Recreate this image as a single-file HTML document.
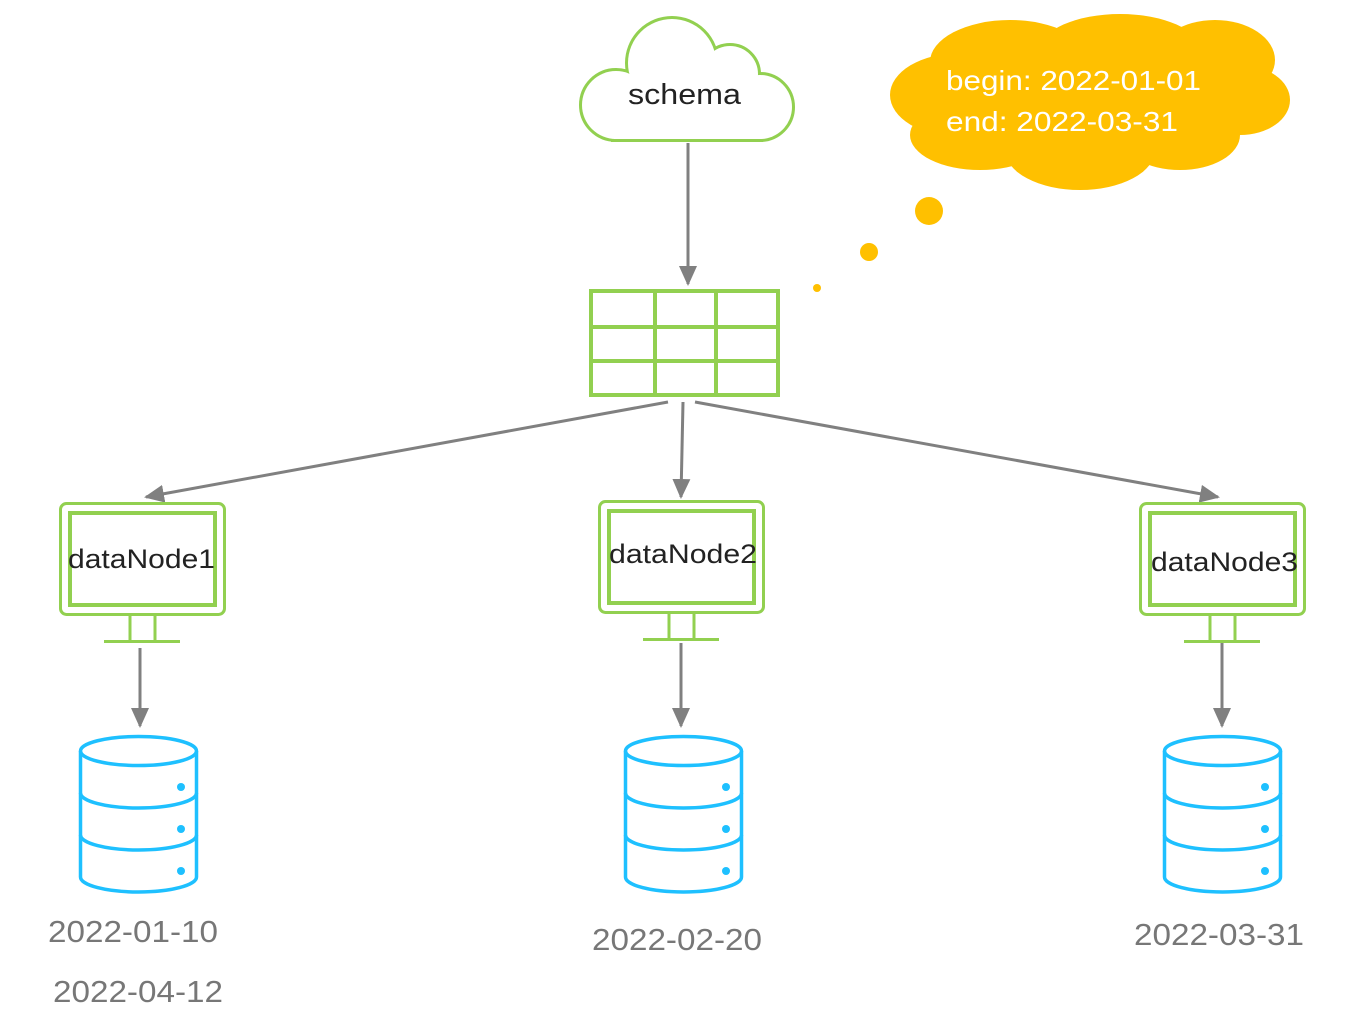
<!DOCTYPE html>
<html><head><meta charset="utf-8"><style>
html,body{margin:0;padding:0;background:#fff;}
svg{display:block;}
text{font-family:"Liberation Sans","DejaVu Sans",sans-serif;}
</style></head><body>
<svg width="1347" height="1029" viewBox="0 0 1347 1029" xmlns="http://www.w3.org/2000/svg">
<defs>
<marker id="ah2" markerWidth="20" markerHeight="18" refX="18" refY="9" orient="auto" markerUnits="userSpaceOnUse" viewBox="0 0 20 18">
<path d="M0,0 L20,9 L0,18 z" fill="#808080"/>
</marker>
<g id="mon">
<rect x="1.5" y="1.5" width="164" height="111" rx="6" fill="#fff" stroke="#92d050" stroke-width="3"/>
<rect x="11" y="11" width="145" height="92" fill="none" stroke="#92d050" stroke-width="4"/>
<line x1="71" y1="114" x2="71" y2="139" stroke="#92d050" stroke-width="3"/>
<line x1="96" y1="114" x2="96" y2="139" stroke="#92d050" stroke-width="3"/>
<line x1="45" y1="139.5" x2="121" y2="139.5" stroke="#92d050" stroke-width="3"/>
</g>
<g id="db" fill="none" stroke="#1ec0ff" stroke-width="3.5">
<ellipse cx="59.5" cy="16" rx="58" ry="14.5" fill="#fff"/>
<path d="M1.5,16 V142 A58,15 0 0 0 117.5,142 V16"/>
<path d="M1.5,58 A58,15 0 0 0 117.5,58"/>
<path d="M1.5,100 A58,15 0 0 0 117.5,100"/>
<circle cx="102" cy="52" r="4" fill="#1ec0ff" stroke="none"/>
<circle cx="102" cy="94" r="4" fill="#1ec0ff" stroke="none"/>
<circle cx="102" cy="136" r="4" fill="#1ec0ff" stroke="none"/>
</g>
</defs>

<!-- schema cloud -->
<g stroke="#92d050" stroke-width="6" fill="#fff">
<circle cx="616" cy="105" r="34"/>
<circle cx="672" cy="63" r="44"/>
<circle cx="730" cy="74" r="28"/>
<circle cx="760" cy="107" r="32"/>
<rect x="614" y="95" width="146" height="44"/>
</g>
<g fill="#fff">
<circle cx="616" cy="105" r="34"/>
<circle cx="672" cy="63" r="44"/>
<circle cx="730" cy="74" r="28"/>
<circle cx="760" cy="107" r="32"/>
<rect x="614" y="95" width="146" height="44"/>
<ellipse cx="690" cy="95" rx="60" ry="30"/>
</g>
<text x="628" y="104" font-size="29" textLength="113" lengthAdjust="spacingAndGlyphs" fill="#222">schema</text>

<!-- yellow cloud -->
<g fill="#ffc000">
<ellipse cx="960" cy="95" rx="70" ry="42"/>
<ellipse cx="1010" cy="62" rx="80" ry="42"/>
<ellipse cx="1120" cy="50" rx="80" ry="36"/>
<ellipse cx="1215" cy="60" rx="60" ry="40"/>
<ellipse cx="1240" cy="100" rx="50" ry="35"/>
<ellipse cx="1180" cy="135" rx="60" ry="35"/>
<ellipse cx="1080" cy="150" rx="75" ry="40"/>
<ellipse cx="980" cy="135" rx="70" ry="35"/>
<ellipse cx="1090" cy="100" rx="170" ry="60"/>
</g>
<text x="946" y="90" font-size="28" textLength="255" lengthAdjust="spacingAndGlyphs" fill="#fff">begin: 2022-01-01</text>
<text x="946" y="131" font-size="28" textLength="232" lengthAdjust="spacingAndGlyphs" fill="#fff">end: 2022-03-31</text>
<circle cx="929" cy="211" r="14" fill="#ffc000"/>
<circle cx="869" cy="252" r="9" fill="#ffc000"/>
<circle cx="817" cy="288" r="4" fill="#ffc000"/>

<!-- arrows -->
<g stroke="#808080" stroke-width="3" fill="none">
<line x1="688" y1="143" x2="688" y2="284" marker-end="url(#ah2)"/>
<line x1="668" y1="402" x2="146" y2="497" marker-end="url(#ah2)"/>
<line x1="683" y1="402" x2="681" y2="497" marker-end="url(#ah2)"/>
<line x1="695" y1="402" x2="1218" y2="497" marker-end="url(#ah2)"/>
<line x1="140" y1="648" x2="140" y2="726" marker-end="url(#ah2)"/>
<line x1="681" y1="643" x2="681" y2="726" marker-end="url(#ah2)"/>
<line x1="1222" y1="643" x2="1222" y2="726" marker-end="url(#ah2)"/>
</g>

<!-- table -->
<g stroke="#92d050" stroke-width="4" fill="#fff">
<rect x="591" y="291" width="187" height="104"/>
<line x1="655" y1="291" x2="655" y2="395"/>
<line x1="716" y1="291" x2="716" y2="395"/>
<line x1="591" y1="327" x2="778" y2="327"/>
<line x1="591" y1="361" x2="778" y2="361"/>
</g>

<!-- monitors -->
<use href="#mon" x="59" y="502"/>
<use href="#mon" x="598" y="500"/>
<use href="#mon" x="1139" y="502"/>
<text x="68" y="568" font-size="27" textLength="147" lengthAdjust="spacingAndGlyphs" fill="#222">dataNode1</text>
<text x="609" y="563" font-size="27" textLength="148" lengthAdjust="spacingAndGlyphs" fill="#222">dataNode2</text>
<text x="1151" y="571" font-size="27" textLength="147" lengthAdjust="spacingAndGlyphs" fill="#222">dataNode3</text>

<!-- dbs -->
<use href="#db" x="79" y="735"/>
<use href="#db" x="624" y="735"/>
<use href="#db" x="1163" y="735"/>

<g font-size="31" fill="#777">
<text x="48" y="942" textLength="170" lengthAdjust="spacingAndGlyphs">2022-01-10</text>
<text x="53" y="1002" textLength="170" lengthAdjust="spacingAndGlyphs">2022-04-12</text>
<text x="592" y="950" textLength="170" lengthAdjust="spacingAndGlyphs">2022-02-20</text>
<text x="1134" y="945" textLength="170" lengthAdjust="spacingAndGlyphs">2022-03-31</text>
</g>
</svg>
</body></html>
